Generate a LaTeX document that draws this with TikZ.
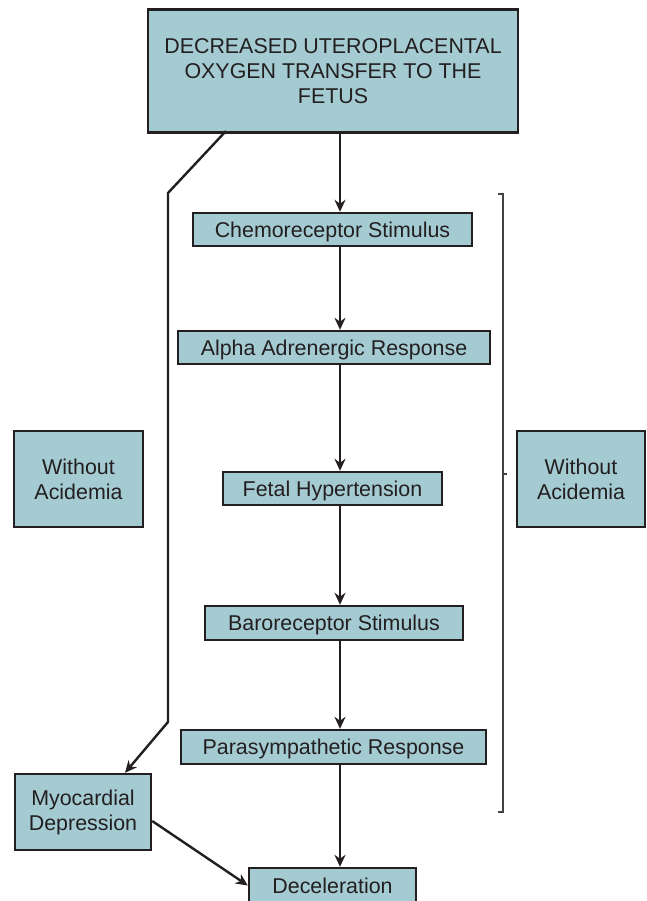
\documentclass[tikz,border=0pt]{standalone}
\usepackage{fontspec}
\setmainfont{Liberation Sans}
\usetikzlibrary{arrows.meta}
\definecolor{boxfill}{HTML}{A4CAD2}
\definecolor{ink}{HTML}{231F20}
\tikzset{
  x=1pt, y=-1pt,
  flowbox/.style={draw=ink, line width=2.4pt, fill=boxfill, text=ink, align=center,
    inner sep=0pt, font=\fontsize{21.4}{25}\selectfont},
  oneline/.style={text height=17pt, text depth=2pt},
  arr/.style={draw=ink, line width=2.4pt, -{Stealth[length=12pt,width=11pt]}},
  bracket/.style={draw=ink!85, line width=1.6pt}
}
\begin{document}
\begin{tikzpicture}
\useasboundingbox (0,0) rectangle (646,901);
\clip (0,0) rectangle (646,901);
\node[flowbox, minimum width=370, minimum height=123] (top) at (333,71)
  {DECREASED UTEROPLACENTAL\\OXYGEN TRANSFER TO THE\\FETUS};
\node[flowbox, oneline, minimum width=279, minimum height=33] (chemo) at (332.5,229.5) {Chemoreceptor Stimulus};
\node[flowbox, oneline, minimum width=312, minimum height=33] (alpha) at (334,347.5) {Alpha Adrenergic Response};
\node[flowbox, oneline, minimum width=219, minimum height=33] (fetal) at (332.5,488.5) {Fetal Hypertension};
\node[flowbox, oneline, minimum width=258, minimum height=34] (baro) at (334,623) {Baroreceptor Stimulus};
\node[flowbox, oneline, minimum width=305, minimum height=34] (para) at (333.5,747) {Parasympathetic Response};
\node[flowbox, oneline, minimum width=167, minimum height=35] (decel) at (332.5,885.5) {Deceleration};
\node[flowbox, minimum width=136, minimum height=76] (myo) at (83,812) {Myocardial\\Depression};
\node[flowbox, minimum width=129, minimum height=96] (wal) at (78.5,479) {Without\\Acidemia};
\node[flowbox, minimum width=128, minimum height=96] (war) at (581,479) {Without\\Acidemia};

\coordinate (xl) at (340,0);
\draw[arr] (top.south -| xl) -- (chemo.north -| xl);
\draw[arr] (chemo.south -| xl) -- (alpha.north -| xl);
\draw[arr] (alpha.south -| xl) -- (fetal.north -| xl);
\draw[arr] (fetal.south -| xl) -- (baro.north -| xl);
\draw[arr] (baro.south -| xl) -- (para.north -| xl);
\draw[arr] (para.south -| xl) -- (decel.north -| xl);

\coordinate (lstart) at (226,131);
\coordinate (lbend1) at (168,193);
\coordinate (lbend2) at (168,722);
\draw[arr] (lstart) -- (lbend1) -- (lbend2) -- ([xshift=42]myo.north);
\draw[arr] ([yshift=-9]myo.east) -- (decel.west);

\coordinate (bt) at (503,194);
\coordinate (bb) at (503,812);
\coordinate (bm) at (503,474);
\draw[bracket] ([xshift=-5]bt) -- (bt) -- (bb) -- ([xshift=-5]bb);
\draw[bracket] (bm) -- ([xshift=4]bm);
\end{tikzpicture}
\end{document}
